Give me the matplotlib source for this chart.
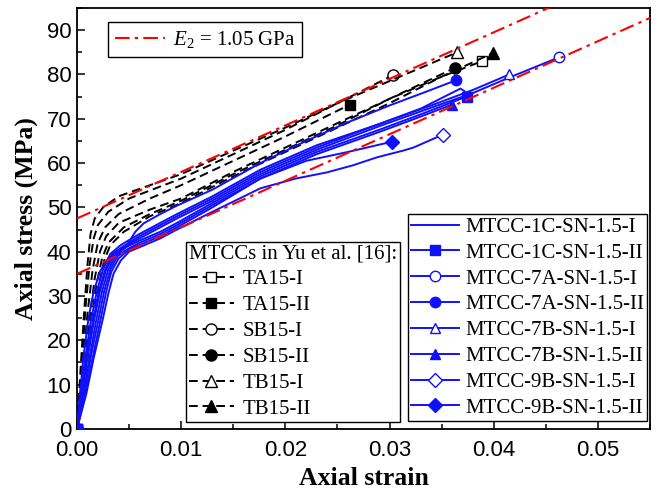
import numpy as np
import matplotlib
matplotlib.use("Agg")
import matplotlib.pyplot as plt
from matplotlib.ticker import MultipleLocator, FormatStrFormatter

plt.rcParams['mathtext.fontset'] = 'custom'
plt.rcParams['mathtext.rm'] = 'Liberation Serif'
plt.rcParams['mathtext.it'] = 'Liberation Serif:italic'

# ---------------- data: Yu et al. [16] (black dashed) ----------------
yu_labels = ['TA15-I', 'TA15-II', 'SB15-I', 'SB15-II', 'TB15-I', 'TB15-II']
yu_markers = ['s', 's', 'o', 'o', '^', '^']
yu_filled = [False, True, False, True, False, True]

ta15_1_x = [0, 0.0006, 0.0012, 0.0017, 0.0022, 0.0028, 0.004, 0.007, 0.01, 0.015, 0.02, 0.025, 0.03, 0.035, 0.0389]
ta15_1_y = [0, 12, 25, 34, 40, 43.5, 46.5, 49.5, 52, 58, 63.5, 69, 74.5, 79.5, 83]
ta15_2_x = [0, 0.0005, 0.001, 0.0015, 0.002, 0.0027, 0.004, 0.007, 0.01, 0.015, 0.02, 0.0262]
ta15_2_y = [0, 13, 26, 36, 42, 45.5, 48.5, 52, 55, 60.5, 66, 73.2]
sb15_1_x = [0, 0.0004, 0.0008, 0.0012, 0.0016, 0.002, 0.003, 0.005, 0.01, 0.015, 0.02, 0.025, 0.0303]
sb15_1_y = [0, 13, 27, 37, 43, 46, 49, 52, 56.5, 62, 67.5, 73.5, 79.8]
sb15_2_x = [0, 0.0007, 0.0013, 0.0019, 0.0024, 0.003, 0.0045, 0.007, 0.01, 0.015, 0.02, 0.025, 0.03, 0.0363]
sb15_2_y = [0, 12, 24, 33, 38.5, 42, 45.5, 48.5, 51.5, 57.5, 63, 68.5, 74.5, 81.5]
tb15_1_x = [0, 0.0003, 0.0007, 0.001, 0.0013, 0.0017, 0.0025, 0.004, 0.007, 0.01, 0.015, 0.02, 0.025, 0.03, 0.0365]
tb15_1_y = [0, 12, 27, 37, 44, 47.5, 50, 52.5, 55, 57.5, 62.8, 68, 73.5, 78.5, 85]
tb15_2_x = [0, 0.0008, 0.0015, 0.0021, 0.0026, 0.0032, 0.0045, 0.007, 0.01, 0.015, 0.02, 0.025, 0.03, 0.035, 0.0399]
tb15_2_y = [0, 12, 24, 32.5, 38, 41.5, 44.5, 48, 51, 57, 62.5, 68, 73.5, 79.5, 84.8]
yu_x = [ta15_1_x, ta15_2_x, sb15_1_x, sb15_2_x, tb15_1_x, tb15_2_x]
yu_y = [ta15_1_y, ta15_2_y, sb15_1_y, sb15_2_y, tb15_1_y, tb15_2_y]

# ---------------- data: MTCC specimens (blue solid) ----------------
mt_labels = ['MTCC-1C-SN-1.5-I', 'MTCC-1C-SN-1.5-II', 'MTCC-7A-SN-1.5-I', 'MTCC-7A-SN-1.5-II',
             'MTCC-7B-SN-1.5-I', 'MTCC-7B-SN-1.5-II', 'MTCC-9B-SN-1.5-I', 'MTCC-9B-SN-1.5-II']
mt_markers = [None, 's', 'o', 'o', '^', '^', 'D', 'D']
mt_filled = [True, True, False, True, False, True, False, True]

c1_1_x = [0, 0.0003, 0.0008, 0.0013, 0.0019, 0.0025, 0.0032, 0.0042, 0.006, 0.008, 0.0096, 0.013, 0.0176, 0.023, 0.029, 0.033, 0.0368, 0.0372]
c1_1_y = [0, 8, 16, 24, 31, 36, 39.5, 41.5, 44, 46.5, 48.5, 52.5, 58.5, 64, 68.8, 72.3, 76.8, 76.2]
c1_2_x = [0, 0.0006, 0.0012, 0.0018, 0.0024, 0.003, 0.0037, 0.0047, 0.006, 0.008, 0.0096, 0.013, 0.0176, 0.023, 0.029, 0.033, 0.0374]
c1_2_y = [0, 8, 16, 24, 31, 36, 39, 41, 42.5, 44.5, 46.5, 51, 57, 62.5, 67.5, 71, 75]
a7_1_x = [0, 0.0005, 0.001, 0.0016, 0.0022, 0.0028, 0.0035, 0.0045, 0.006, 0.008, 0.0096, 0.013, 0.0176, 0.023, 0.029, 0.034, 0.038, 0.0415, 0.0463]
a7_1_y = [0, 8, 16, 24, 31, 36, 39, 41, 43, 45.5, 47.5, 51.5, 57.5, 63, 68.3, 72.5, 75.8, 79.3, 83.9]
a7_2_x = [0, 0.0003, 0.0006, 0.0011, 0.0016, 0.0022, 0.003, 0.004, 0.0048, 0.0056, 0.0064, 0.008, 0.0096, 0.013, 0.0176, 0.022, 0.026, 0.03, 0.0334, 0.0364]
a7_2_y = [0, 8, 16, 25, 31, 35.5, 38.5, 40, 41.5, 44.5, 46.4, 48.5, 50.4, 54, 60, 65, 69.2, 73, 76, 78.7]
b7_1_x = [0, 0.0004, 0.0009, 0.0015, 0.0021, 0.0027, 0.0034, 0.0043, 0.006, 0.008, 0.0096, 0.013, 0.0176, 0.023, 0.029, 0.034, 0.038, 0.0415]
b7_1_y = [0, 8, 16, 24, 31, 36, 39.5, 41, 43.5, 46, 48, 52, 58, 63.5, 68.8, 73, 76.5, 80]
b7_2_x = [0, 0.0007, 0.0013, 0.002, 0.0026, 0.0032, 0.0039, 0.0048, 0.006, 0.008, 0.0096, 0.013, 0.0176, 0.023, 0.029, 0.033, 0.036]
b7_2_y = [0, 8, 16, 24, 31, 36, 39, 40.5, 42, 44, 46, 50.5, 56.5, 62, 67, 70.5, 73.2]
b9_1_x = [0, 0.0009, 0.0016, 0.0024, 0.003, 0.0035, 0.0042, 0.005, 0.0065, 0.008, 0.0096, 0.013, 0.0176, 0.021, 0.024, 0.0265, 0.0288, 0.0313, 0.0323, 0.0351]
b9_1_y = [0, 8, 16, 24, 30.5, 35, 38, 40, 41.5, 43, 45, 49, 54.3, 56.5, 57.9, 59.5, 61.3, 62.8, 63.5, 66.4]
b9_2_x = [0, 0.0008, 0.0015, 0.0022, 0.0028, 0.0033, 0.004, 0.005, 0.0065, 0.008, 0.0096, 0.013, 0.0176, 0.022, 0.026, 0.0302]
b9_2_y = [0, 8, 16, 24, 31, 35.5, 38.5, 40.5, 42, 43.5, 45.5, 50, 56.5, 60.5, 62.5, 64.8]
mt_x = [c1_1_x, c1_2_x, a7_1_x, a7_2_x, b7_1_x, b7_2_x, b9_1_x, b9_2_x]
mt_y = [c1_1_y, c1_2_y, a7_1_y, a7_2_y, b7_1_y, b7_2_y, b9_1_y, b9_2_y]

# ---------------- reference lines ----------------
E2 = 1050.0            # MPa (1.05 GPa)
e2_intercepts = [47.5, 35.0]
e2_label = r'$E_2$ = 1.05 GPa'

xlim = (0, 0.055)
ylim = (0, 95)

# ---------------- figure ----------------
fig = plt.figure(figsize=(6.68, 4.97), dpi=100)
ax = fig.add_axes([0.1153, 0.137, 0.8578, 0.847])

serif = 'Liberation Serif'
sans = 'Liberation Sans'
blue = '#1010FF'

yu_handles = []
for xs, ys, lab, mk, fl in zip(yu_x, yu_y, yu_labels, yu_markers, yu_filled):
    ln, = ax.plot(xs, ys, color='black', lw=1.4, dashes=(4.5, 2.5), marker=mk,
                  markevery=[0, len(xs) - 1], ms=8 if mk != 's' else 7.5,
                  mfc='black' if fl else 'white', mec='black', mew=1.0, label=lab,
                  zorder=3)
    yu_handles.append(ln)

mt_handles = []
for xs, ys, lab, mk, fl in zip(mt_x, mt_y, mt_labels, mt_markers, mt_filled):
    kw = {}
    if mk is not None:
        kw = dict(marker=mk, markevery=[0, len(xs) - 1], ms=7.5 if mk != 'D' else 7,
                  mfc=blue if fl else 'white', mec=blue, mew=1.0)
    ln, = ax.plot(xs, ys, color=blue, lw=1.4, label=lab, zorder=4, **kw)
    mt_handles.append(ln)

xx = np.array(xlim)
red_handle = None
for b in e2_intercepts:
    ln, = ax.plot(xx, b + E2 * xx, color='red', lw=1.5, dashes=(7, 2.5, 1.6, 2.5),
                  zorder=5, label=e2_label)
    red_handle = ln

ax.set_xlim(*xlim)
ax.set_ylim(*ylim)
ax.xaxis.set_major_locator(MultipleLocator(0.01))
ax.xaxis.set_minor_locator(MultipleLocator(0.005))
ax.yaxis.set_major_locator(MultipleLocator(10))
ax.yaxis.set_minor_locator(MultipleLocator(5))
ax.xaxis.set_major_formatter(FormatStrFormatter('%.2f'))
ax.tick_params(which='both', direction='in', top=False, right=False, width=1.1)
ax.tick_params(which='major', length=6, labelsize=16)
ax.tick_params(axis='x', which='major', pad=8)
ax.tick_params(axis='y', which='major', pad=4)
ax.tick_params(which='minor', length=3.5)
for t in ax.get_xticklabels() + ax.get_yticklabels():
    t.set_fontfamily(sans)
for s in ax.spines.values():
    s.set_linewidth(1.3)

ax.set_xlabel('Axial strain', fontfamily=serif, fontweight='bold', fontsize=18.5, labelpad=4)
ax.set_ylabel('Axial stress (MPa)', fontfamily=serif, fontweight='bold', fontsize=18.5, labelpad=6)

leg_common = dict(frameon=True, fancybox=False, framealpha=1, edgecolor='black',
                  borderaxespad=0, prop={'family': serif, 'size': 15})

leg1 = ax.legend(handles=[red_handle], loc='upper left', bbox_to_anchor=(0.054, 0.967),
                 handlelength=2.4, handletextpad=0.35, borderpad=0.35, **leg_common)
leg1.get_frame().set_linewidth(1.0)
ax.add_artist(leg1)

leg2 = ax.legend(handles=yu_handles, loc='lower right', bbox_to_anchor=(0.564, 0.017),
                 title='MTCCs in Yu et al. [16]:', title_fontproperties={'family': serif, 'size': 15},
                 alignment='left', handlelength=2.15, handletextpad=0.45, labelspacing=0.3,
                 borderpad=0.15, **leg_common)
leg2.get_frame().set_linewidth(1.0)
ax.add_artist(leg2)

leg3 = ax.legend(handles=mt_handles, loc='lower right', bbox_to_anchor=(0.995, 0.019),
                 handlelength=2.3, handletextpad=0.3, labelspacing=0.3, borderpad=0.15,
                 **leg_common)
leg3.get_frame().set_linewidth(1.0)

fig.savefig('out.png', dpi=100)
